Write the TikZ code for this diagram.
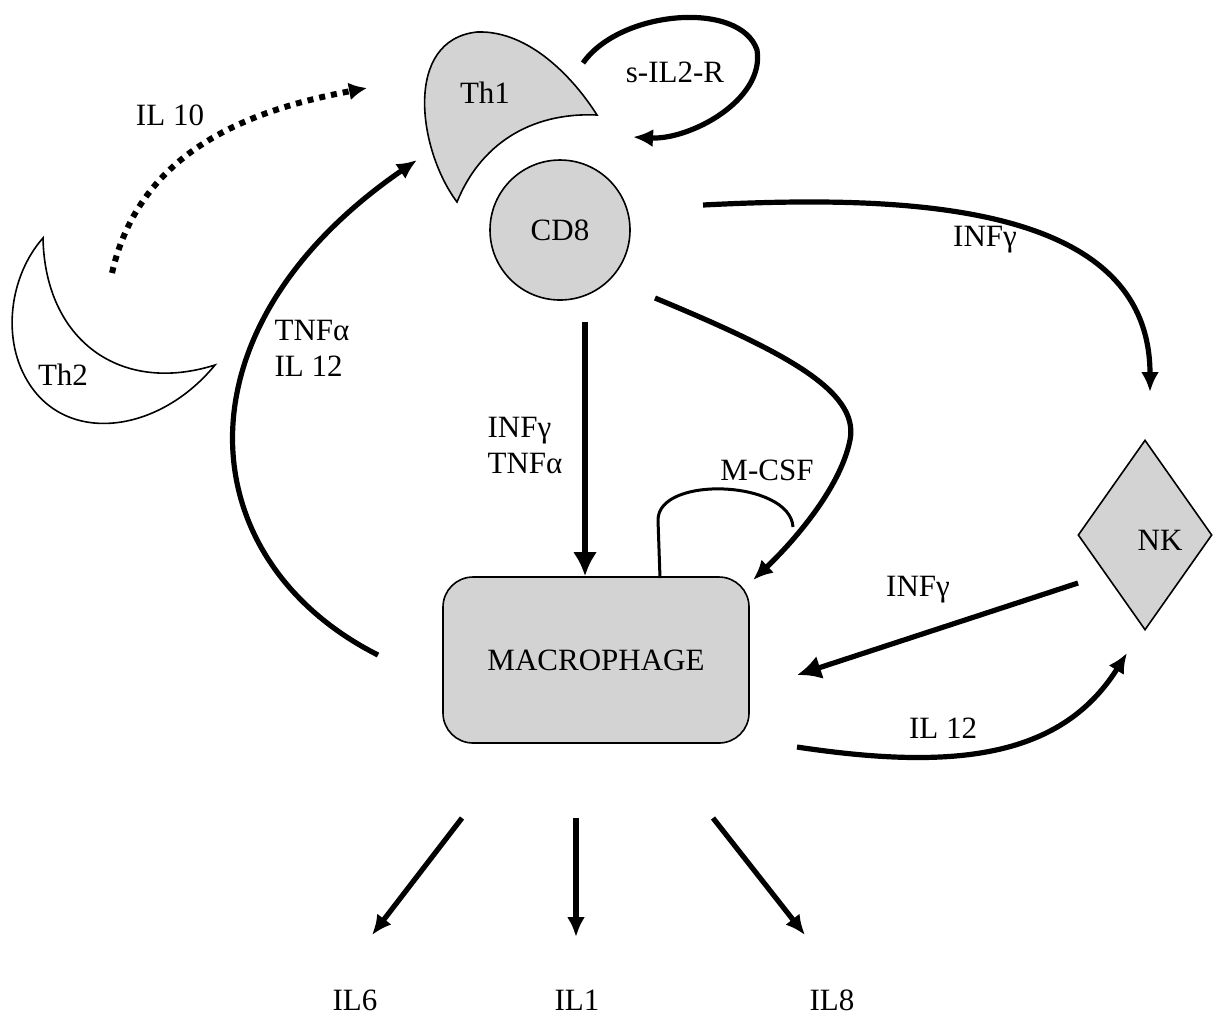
\documentclass[tikz,border=0pt]{standalone}
\usepackage{fontspec}
\setmainfont{Liberation Serif}
\usepackage{tikz}
\usetikzlibrary{shapes.geometric}
\usetikzlibrary{arrows.meta}
\definecolor{cellfill}{RGB}{211,211,211}

\begin{document}
\begin{tikzpicture}[x=0.5pt, y=-0.5pt,
  every node/.style={font=\fontsize{15.5}{18}\selectfont},
  cell/.style={draw, line width=0.8pt, fill=cellfill},
  flow/.style={line width=2.6pt, -{Latex[length=10pt,width=9pt]}},
  bigflow/.style={line width=2.6pt, -{Latex[length=12pt,width=12pt]}}]
  \useasboundingbox (0,0) rectangle (1213,1025);
  % cells
  \draw[cell] (457,202) .. controls (418,150) and (403,40) .. (477,32)
    .. controls (530,30) and (575,80) .. (597,115)
    .. controls (530,112) and (480,145) .. (457,202) -- cycle;
  \node (th1) at (485,93) {Th1};
  \draw[cell, fill=white] (43,238) .. controls (10,275) and (0,340) .. (30,385)
    .. controls (70,445) and (160,432) .. (215,365)
    .. controls (120,395) and (45,340) .. (43,238) -- cycle;
  \node (th2) at (63,375) {Th2};
  \node[cell, circle, minimum size=70pt, inner sep=0pt] (cd8) at (560,230) {CD8};
  \node[cell, rectangle, rounded corners=15pt, minimum width=153pt, minimum height=83pt] (mac) at (596,660) {MACROPHAGE};
  \node[cell, diamond, minimum width=67pt, minimum height=95pt, inner sep=0pt] (nk) at (1145,535) {};
  \node (nktext) at (1160,540) {NK};
  \node (il6) at (355,1000) {IL6};
  \node (il1) at (577,1000) {IL1};
  \node (il8) at (832,1000) {IL8};
  % free ends
  \coordinate (th2out) at (112,273);
  \coordinate (th1in) at (367,88);
  \coordinate (loopa) at (583,63);
  \coordinate (loopb) at (633,137);
  \coordinate (macout) at (378,655);
  \coordinate (th1low) at (417,160);
  \coordinate (cd8e) at (703,205);
  \coordinate (nktop) at (1150,392);
  \coordinate (cd8s) at (585,322);
  \coordinate (cd8se) at (655,298);
  \coordinate (macne) at (753,580);
  \coordinate (mcsf) at (660,578);
  \coordinate (mcsfend) at (793,527);
  \coordinate (nkw) at (1078,583);
  \coordinate (macin) at (797,675);
  \coordinate (macse) at (797,747);
  \coordinate (nkbot) at (1127,653);
  \coordinate (o6) at (462,818);
  \coordinate (o1) at (576,818);
  \coordinate (o8) at (713,818);
  \coordinate (e6) at (372,935);
  \coordinate (e1) at (576,937);
  \coordinate (e8) at (805,935);
  % connectors
  \draw[line width=3pt, dash pattern=on 3pt off 3pt, -{Latex[length=9pt,width=9pt]}] (th2out) .. controls (140,150) and (250,110) .. (th1in);
  \draw[flow] (loopa) .. controls (620,10) and (740,0) .. (757,50) .. controls (765,100) and (690,140) .. (loopb);
  \draw[flow] (macout) .. controls (190,560) and (170,330) .. (th1low);
  \draw[flow] (cd8e) .. controls (900,195) and (1150,200) .. (nktop);
  \draw[bigflow] (cd8s) -- (cd8s |- mac.north);
  \draw[flow] (cd8se) .. controls (780,350) and (860,390) .. (850,440) .. controls (840,490) and (790,545) .. (macne);
  \draw[line width=1.5pt] (mcsf) -- (658,520) .. controls (658,475) and (790,480) .. (mcsfend);
  \draw[bigflow] (nkw) -- (macin);
  \draw[flow] (macse) .. controls (950,770) and (1060,760) .. (nkbot);
  \draw[flow] (o6) -- (e6);
  \draw[flow] (o1) -- (e1);
  \draw[flow] (o8) -- (e8);
  % labels
  \node (lil10) at (170,115) {IL 10};
  \node (lsil) at (675,72) {s-IL2-R};
  \node (linf1) at (985,240) {INFγ};
  \node[align=left] (ltnf) at (312,348) {TNFα\\IL 12};
  \node[align=left] (linf2) at (525,445) {INFγ\\TNFα};
  \node (lmcsf) at (767,470) {M-CSF};
  \node (linf3) at (918,590) {INFγ};
  \node (lil12) at (943,728) {IL 12};
\end{tikzpicture}
\end{document}
